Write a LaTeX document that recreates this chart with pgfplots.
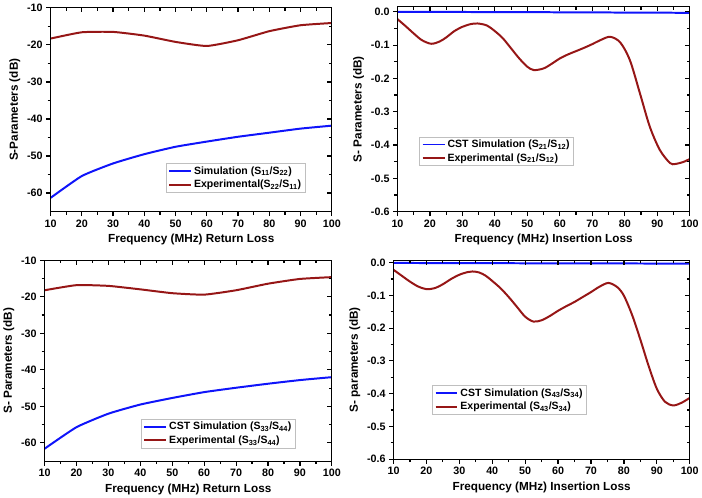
\documentclass[border=0pt]{standalone}
\usepackage{fontspec}
\setmainfont{Liberation Sans}
\usepackage{pgfplots}
\pgfplotsset{compat=1.18}

\definecolor{simblue}{RGB}{15,20,250}
\definecolor{expred}{RGB}{150,22,22}

\pgfplotsset{
  common/.style={
    scale only axis,
    xmin=10, xmax=100,
    xtick={10,20,...,100},
    minor x tick num=1,
    minor y tick num=1,
    axis line style={line width=1.2pt},
    tick style={draw=black, line width=1.2pt},
    major tick length=4.5pt,
    minor tick length=3pt,
  },
  panel/.style={
    common,
    tick align=outside,
    xtick pos=bottom, ytick pos=left,
    /pgf/number format/assume math mode=true,
    ticklabel style={font=\fontsize{10.8}{12}\selectfont\bfseries},
    label style={font=\fontsize{11.8}{13}\selectfont\bfseries},
    legend cell align=left,
    legend image code/.code={\draw[##1] (0pt,0pt) -- (22pt,0pt);},
    legend style={draw=black!25, line width=0.6pt,
      font=\fontsize{10.6}{12}\selectfont\bfseries,
      inner xsep=2pt, inner ysep=1pt, row sep=0.5pt},
  },
  mirror/.style={
    common,
    tick align=inside,
    xtick pos=top, ytick pos=right,
    xticklabels={}, yticklabels={},
  },
  rl/.style={ymin=-65, ymax=-10, ytick={-60,-50,...,-10}},
  il/.style={ymin=-0.6, ytick={-0.6,-0.5,-0.4,-0.3,-0.2,-0.1,0},
    yticklabel style={/pgf/number format/.cd, fixed, fixed zerofill, precision=1}},
  sim/.style={simblue, line width=2pt},
  exp/.style={expred, line width=2pt},
}

\begin{document}
\begin{tikzpicture}
\path (0,0) rectangle (702pt,500pt);

% ---------- Return loss, ports 1/2 ----------
\begin{axis}[panel, rl, at={(47pt,288pt)}, anchor=south west,
  width=283pt, height=205pt,
  xlabel={Frequency (MHz) Return Loss},
  ylabel={S-Parameters (dB)},
  legend style={at={(0.41,0.093)}, anchor=south west}]
\addplot[sim, smooth, tension=0.3] coordinates {
  (10,-61.3) (20,-55.4) (30,-52.0) (40,-49.5) (50,-47.5)
  (60,-46.1) (70,-44.8) (80,-43.7) (90,-42.6) (100,-41.8)};
\addlegendentry{Simulation (S\textsubscript{11}/S\textsubscript{22})}
\addplot[exp, smooth, tension=0.3] coordinates {
  (10,-18.3) (20,-16.6) (30,-16.5) (40,-17.5) (50,-19.2)
  (60,-20.3) (70,-18.75) (80,-16.3) (90,-14.7) (100,-14.1)};
\addlegendentry{Experimental(S\textsubscript{22}/S\textsubscript{11})}
\end{axis}
\begin{axis}[mirror, rl, at={(47pt,288pt)}, anchor=south west,
  width=283pt, height=205pt]
\end{axis}

% ---------- Insertion loss, S21/S12 ----------
\begin{axis}[panel, il, ymax=0.015, at={(396pt,288pt)}, anchor=south west,
  width=294pt, height=206pt,
  xlabel={Frequency (MHz) Insertion Loss},
  ylabel={S- Parameters (dB)},
  legend style={at={(0.075,0.223)}, anchor=south west}]
\addplot[sim] coordinates {(10,0) (50,-0.001) (100,-0.003)};
\addlegendentry{CST Simulation (S\textsubscript{21}/S\textsubscript{12})}
\addplot[exp, smooth, tension=0.5] coordinates {
  (10,-0.022) (12.5,-0.043) (15,-0.065) (17.5,-0.085) (20.4,-0.096)
  (23,-0.089) (25,-0.077) (27.5,-0.058) (30,-0.045) (32.5,-0.037)
  (34.7,-0.035) (37.5,-0.041) (40,-0.058) (42.5,-0.080) (45,-0.110)
  (47.5,-0.140) (50,-0.165) (52,-0.175) (55,-0.170) (57.5,-0.156)
  (60,-0.140) (62.5,-0.128) (65,-0.118) (67.5,-0.108) (70,-0.097)
  (72.5,-0.085) (75.5,-0.075) (78.6,-0.092) (81.6,-0.146) (84.7,-0.246)
  (87.7,-0.345) (90.8,-0.415) (93.9,-0.454) (95.5,-0.457) (98,-0.451)
  (100,-0.442)};
\addlegendentry{Experimental (S\textsubscript{21}/S\textsubscript{12})}
\end{axis}
\begin{axis}[mirror, il, ymax=0.015, at={(396pt,288pt)}, anchor=south west,
  width=294pt, height=206pt]
\end{axis}

% ---------- Return loss, ports 3/4 ----------
\begin{axis}[panel, rl, at={(41pt,37pt)}, anchor=south west,
  width=289pt, height=202pt,
  xlabel={Frequency (MHz) Return Loss},
  ylabel={S- Parameters (dB)},
  legend style={at={(0.336,0.064)}, anchor=south west}]
\addplot[sim, smooth, tension=0.3] coordinates {
  (10,-61.6) (20,-55.7) (30,-52.0) (40,-49.5) (50,-47.7)
  (60,-46.1) (70,-44.9) (80,-43.8) (90,-42.8) (100,-42.0)};
\addlegendentry{CST Simulation (S\textsubscript{33}/S\textsubscript{44})}
\addplot[exp, smooth, tension=0.3] coordinates {
  (10,-18.2) (20,-16.8) (30,-17.0) (40,-17.95) (50,-19.0)
  (60,-19.4) (70,-18.2) (80,-16.4) (90,-15.1) (100,-14.6)};
\addlegendentry{Experimental (S\textsubscript{33}/S\textsubscript{44})}
\end{axis}
\begin{axis}[mirror, rl, at={(41pt,37pt)}, anchor=south west,
  width=289pt, height=202pt]
\end{axis}

% ---------- Insertion loss, S43/S34 ----------
\begin{axis}[panel, il, ymax=0.007, at={(392pt,39pt)}, anchor=south west,
  width=298pt, height=200pt,
  xlabel={Frequency (MHz) Insertion Loss},
  ylabel={S- parameters (dB)},
  legend style={at={(0.131,0.225)}, anchor=south west}]
\addplot[sim] coordinates {(10,-0.001) (50,-0.002) (100,-0.003)};
\addlegendentry{CST Simulation (S\textsubscript{43}/S\textsubscript{34})}
\addplot[exp, smooth, tension=0.5] coordinates {
  (10,-0.022) (12.5,-0.040) (15,-0.058) (17.5,-0.073) (20,-0.081)
  (22.5,-0.078) (25,-0.066) (27.5,-0.050) (30,-0.037) (32.5,-0.029)
  (34,-0.027) (36,-0.030) (38,-0.040) (40,-0.056) (42.5,-0.078)
  (45,-0.105) (47.5,-0.135) (50,-0.165) (52.5,-0.180) (55,-0.176)
  (57.5,-0.163) (60,-0.147) (62.5,-0.133) (65,-0.120) (67.5,-0.105)
  (70,-0.090) (72.5,-0.074) (75.3,-0.062) (78,-0.075) (80,-0.101)
  (82.5,-0.160) (85,-0.235) (87.5,-0.315) (90,-0.385) (92.5,-0.425)
  (95,-0.436) (97.5,-0.428) (100,-0.413)};
\addlegendentry{Experimental (S\textsubscript{43}/S\textsubscript{34})}
\end{axis}
\begin{axis}[mirror, il, ymax=0.007, at={(392pt,39pt)}, anchor=south west,
  width=298pt, height=200pt]
\end{axis}
\end{tikzpicture}
\end{document}
